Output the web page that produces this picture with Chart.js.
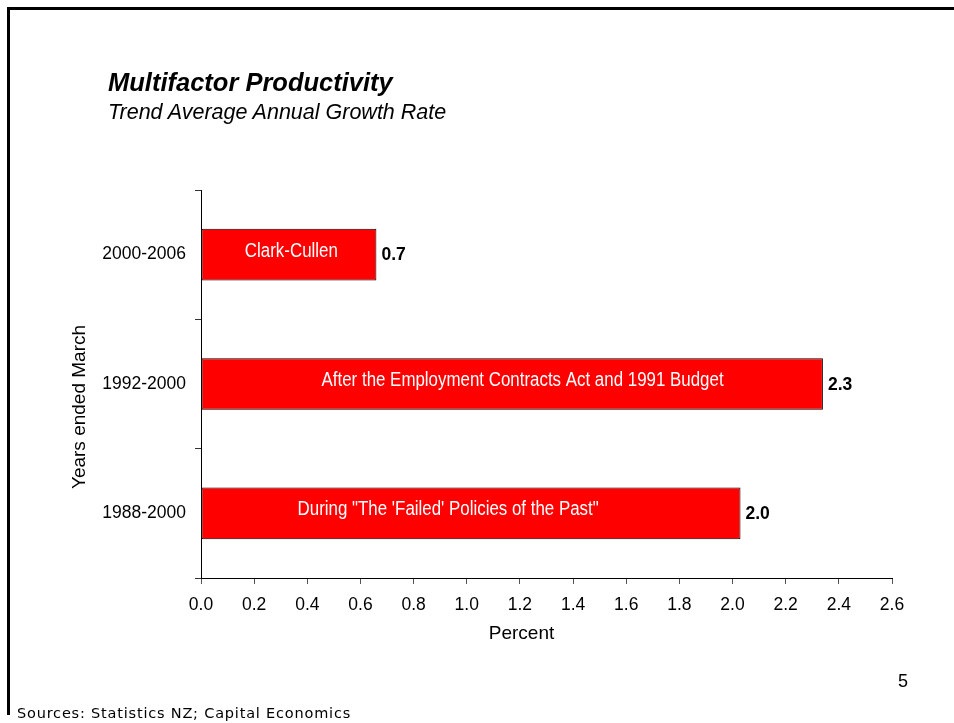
<!DOCTYPE html>
<html>
<head>
<meta charset="utf-8">
<title>Multifactor Productivity</title>
<script src="https://cdn.jsdelivr.net/npm/chart.js@4.4.1/dist/chart.umd.min.js"></script>
<style>
  html, body { margin: 0; padding: 0; background: #fff; }
  .page { position: relative; width: 954px; height: 723px; overflow: hidden; }
  #chart { position: absolute; left: 0; top: 0; }
  .rule-top { position: absolute; left: 7px; top: 7px; width: 947px; height: 3px; background: #000; }
  .rule-left { position: absolute; left: 7px; top: 7px; width: 3px; height: 708px; background: #000; }
  .txt { position: absolute; line-height: 1; white-space: nowrap; color: #000; }
  .title { left: 108px; top: 68px; font: italic bold 25.5px "Liberation Sans", Arial, sans-serif; }
  .subtitle { left: 108px; top: 100px; font: italic 21.5px "Liberation Sans", Arial, sans-serif; }
  .page-no { left: 898px; top: 671px; font: 18px "Liberation Sans", Arial, sans-serif; }
  .sources { left: 17px; top: 705px; font: 14.5px "DejaVu Sans", Verdana, sans-serif; letter-spacing: 0.8px; }
</style>
</head>
<body>
<div class="page">
  <canvas id="chart" width="954" height="723"></canvas>
  <div class="rule-top"></div>
  <div class="rule-left"></div>
  <div class="txt title">Multifactor Productivity</div>
  <div class="txt subtitle">Trend Average Annual Growth Rate</div>
  <div class="txt page-no">5</div>
  <div class="txt sources">Sources: Statistics NZ; Capital Economics</div>
</div>
<script>
const periods = ['2000-2006', '1992-2000', '1988-2000'];
const growthRates = [0.66, 2.34, 2.03];
const periodNames = [
  'Clark-Cullen',
  'After the Employment Contracts Act and 1991 Budget',
  'During "The \'Failed\' Policies of the Past"',
];
// where each period name sits along the percent axis
const nameCentres = [0.34, 1.21, 0.93];
const percentMin = 0;
const percentMax = 2.6;
const percentStep = 0.2;

const SANS = '"Liberation Sans", Arial, sans-serif';
// no narrow face installed, so the period names are squeezed horizontally
const NAME_SQUEEZE = 0.845;

const barText = {
  id: 'barText',
  afterDatasetsDraw(chart) {
    const { ctx } = chart;
    const xScale = chart.scales.x;
    const meta = chart.getDatasetMeta(0);
    meta.data.forEach((bar, i) => {
      ctx.save();
      ctx.font = '20px ' + SANS;
      ctx.fillStyle = '#fff';
      ctx.textAlign = 'center';
      ctx.textBaseline = 'alphabetic';
      ctx.translate(xScale.getPixelForValue(nameCentres[i]), bar.y + 2);
      ctx.scale(NAME_SQUEEZE, 1);
      ctx.fillText(periodNames[i], 0, 0);
      ctx.restore();

      ctx.save();
      ctx.font = 'bold 17.5px ' + SANS;
      ctx.fillStyle = '#000';
      ctx.textAlign = 'left';
      ctx.textBaseline = 'middle';
      ctx.fillText(growthRates[i].toFixed(1), bar.x + 5, bar.y + 1);
      ctx.restore();
    });
  },
  afterDraw(chart) {
    const { ctx, chartArea } = chart;
    ctx.save();
    ctx.fillStyle = '#000';
    ctx.font = '19px ' + SANS;
    ctx.textAlign = 'center';
    ctx.textBaseline = 'middle';
    ctx.fillText('Percent', (chartArea.left + chartArea.right) / 2 - 25, chartArea.bottom + 56);
    ctx.translate(chartArea.left - 121, (chartArea.top + chartArea.bottom) / 2 + 23);
    ctx.rotate(-Math.PI / 2);
    ctx.fillText('Years ended March', 0, 0);
    ctx.restore();
  },
};

function initChart() {
  const canvas = document.getElementById('chart');
  if (!(canvas instanceof HTMLCanvasElement)) return;
  if (typeof Chart === 'undefined') return;

  // eslint-disable-next-line no-new
  new Chart(canvas, {
    type: 'bar',
    data: {
      labels: periods,
      datasets: [
        {
          data: growthRates,
          backgroundColor: '#ff0000',
          borderColor: '#000',
          borderWidth: 1,
          borderSkipped: false,
          categoryPercentage: 1,
          barPercentage: 0.4,
        },
      ],
    },
    options: {
      indexAxis: 'y',
      responsive: false,
      animation: false,
      layout: { padding: { left: 0, top: 190, right: 62, bottom: 60 } },
      plugins: {
        legend: { display: false },
        tooltip: { enabled: false },
      },
      scales: {
        x: {
          min: percentMin,
          max: percentMax,
          afterFit(scale) { scale.height = 85; },
          grid: { drawOnChartArea: false, drawTicks: true, tickLength: 6, color: '#555' },
          border: { display: true, color: '#000', width: 1 },
          ticks: {
            stepSize: percentStep,
            padding: 11,
            color: '#000',
            font: { family: SANS, size: 17.5 },
            callback: (v) => Number(v).toFixed(1),
          },
        },
        y: {
          afterFit(scale) { scale.width = 201; },
          grid: { drawOnChartArea: false, drawTicks: true, tickLength: 6, color: '#333' },
          border: { display: true, color: '#000', width: 1 },
          ticks: {
            padding: 9,
            color: '#000',
            font: { family: SANS, size: 17.5 },
          },
        },
      },
    },
    plugins: [barText],
  });
}

document.addEventListener('DOMContentLoaded', initChart);
</script>
</body>
</html>
